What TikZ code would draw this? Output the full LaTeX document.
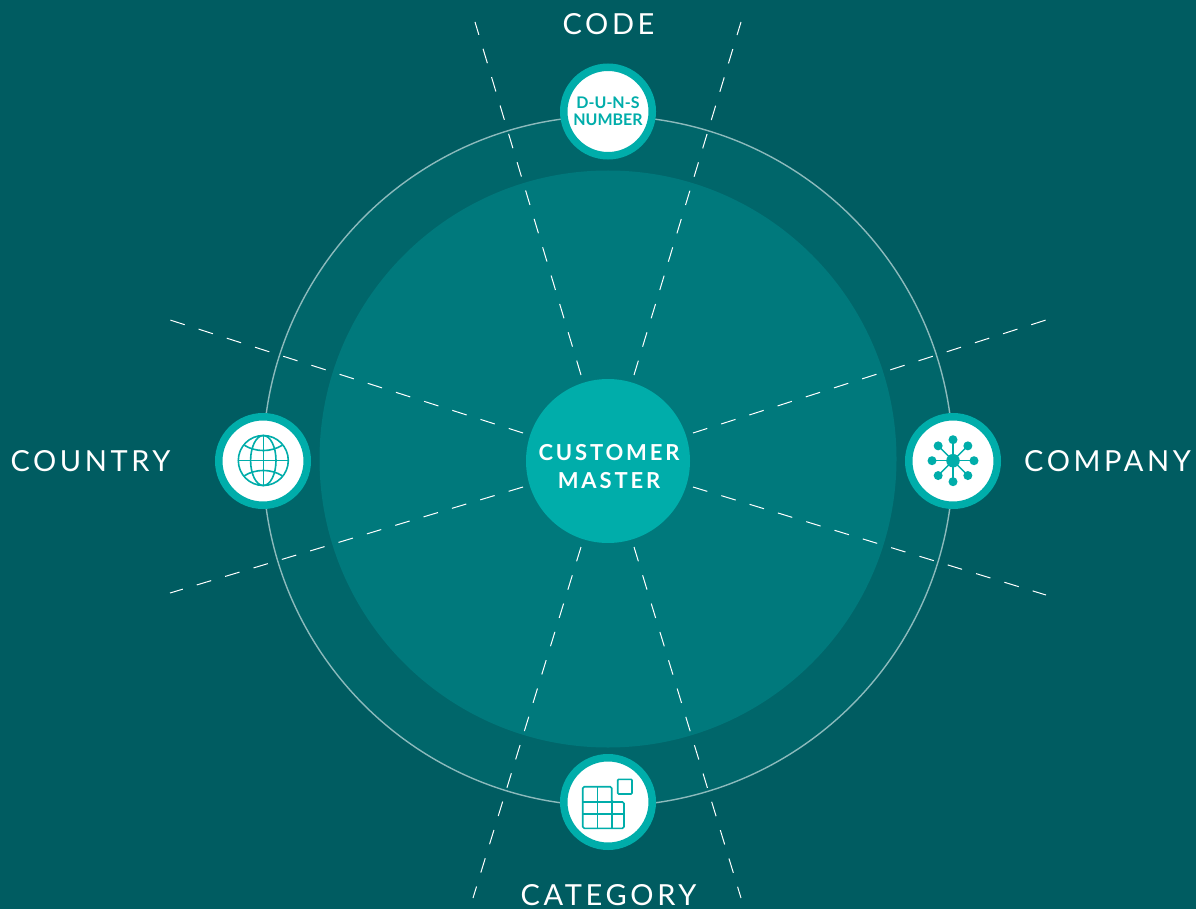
\documentclass[tikz,border=0pt]{standalone}
\usepackage{fontspec}
\setmainfont{Lato}
\newfontfamily\labelfont[LetterSpace=12.5]{Lato}
\newfontfamily\centerfont[LetterSpace=13]{Lato Bold}
\newfontfamily\dunsfont{Lato Bold}
\definecolor{bgteal}{HTML}{005C61}
\definecolor{ringfill}{HTML}{00666A}
\definecolor{midteal}{HTML}{00797C}
\definecolor{accent}{HTML}{00ADAA}
\tikzset{
  x=1pt,y=-1pt,
  disc/.style={circle,inner sep=0pt,outer sep=0pt,minimum size=#1},
  sat/.style={disc=88.5pt,fill=white,draw=accent,line width=7.5pt},
  spoke/.style={white,line width=1pt,dash pattern=on 15pt off 14.6pt},
  capt/.style={text=white,font=\labelfont\fontsize{29}{29}\selectfont,inner sep=0pt},
  icon/.style={accent,line width=1.6pt},
  icondot/.style={circle,fill=accent,inner sep=0pt,minimum size=#1},
}
\begin{document}
\begin{tikzpicture}
\useasboundingbox (0,0) rectangle (1196,909);
\fill[bgteal] (0,0) rectangle (1196,909);
\node[disc=690pt,fill=ringfill,draw=white!55!ringfill,line width=1.4pt] (ring) at (608,461) {};
\node[disc=577pt,fill=midteal] (mid) at (608,459) {};
\node[disc=164pt,fill=accent] (hub) at (608,461) {};
\node[align=center,inner sep=0pt,text=white,font=\centerfont\fontsize{22}{28}\selectfont] (hubtext) at (609,466.5) {CUSTOMER\\MASTER};
% spoke ends
\foreach \n/\ax/\ay/\bx/\by in {a/581/375/475/22,b/634/375/741/22,c/693/433/1046/320,d/693/487/1046/595,e/634/547/741/898,f/581/547/473/898,g/523/487/170/593,h/523/433/170/320}{
  \coordinate (s\n) at (\ax,\ay);
  \coordinate (t\n) at (\bx,\by);
  \draw[spoke] (s\n) -- (t\n);
}
% satellites
\node[sat,align=center,text=accent,font=\dunsfont\fontsize{16}{17}\selectfont] (duns) at (608,111.5) {D-U-N-S\\NUMBER};
\node[sat] (company) at (953,461) {};
\node[sat] (country) at (263,461) {};
\node[sat] (category) at (608,802) {};
% captions
\node[capt] (lcode) at (608.5,24) {CODE};
\node[capt] (lcompany) at (1107.5,461.5) {COMPANY};
\node[capt] (lcountry) at (90.5,461.5) {COUNTRY};
\node[capt] (lcategory) at (608.5,895) {CATEGORY};
% company icon
\begin{scope}[shift={(953,460.7)}]
  \foreach \a in {0,45,...,315}{
    \draw[icon,line width=1.4pt] (0,0) -- (\a:21);
    \node[icondot=9pt] at (\a:21) {};
  }
  \node[icondot=13.5pt] at (0,0) {};
\end{scope}
% globe icon
\begin{scope}[shift={(263.3,460.5)},icon]
  \draw (0,0) circle[radius=25];
  \draw (0,0) ellipse[x radius=12.7,y radius=25];
  \draw (0,-25) -- (0,25);
  \draw (-25,0) -- (25,0);
  \draw (-19,-15.3) .. controls (-8,-8.2) and (8,-8.2) .. (19,-15.3);
  \draw (-19,15.3) .. controls (-8,8.2) and (8,8.2) .. (19,15.3);
\end{scope}
% category icon
\begin{scope}[shift={(608,802)},icon]
  \draw[rounded corners=1.5pt] (-25.3,-15.3) -- (3.7,-15.3) -- (3.7,0) -- (16,0) -- (16,26.3) -- (-25.3,26.3) -- cycle;
  \draw (-10.7,-15.3) -- (-10.7,26.3);
  \draw (3.7,0) -- (3.7,26.3);
  \draw (-25.3,0) -- (3.7,0);
  \draw (-25.3,12) -- (16,12);
  \draw[rounded corners=1pt] (9.7,-22.7) rectangle (24,-8);
\end{scope}
\end{tikzpicture}
\end{document}
